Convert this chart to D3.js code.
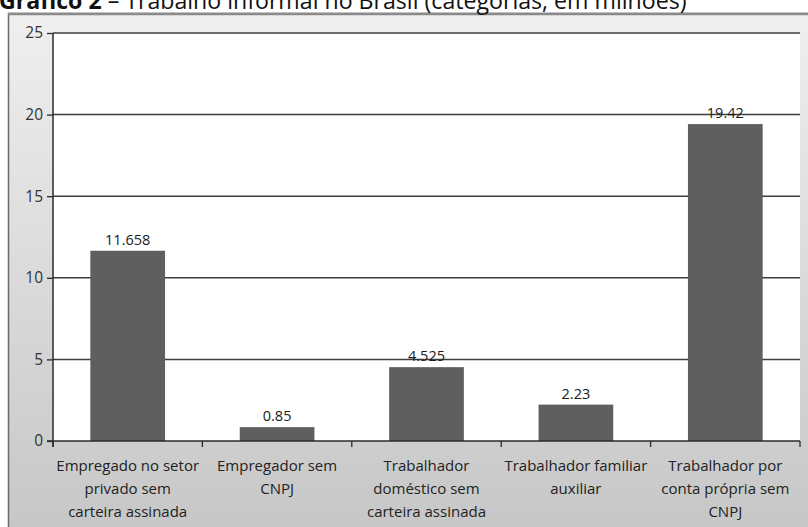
<!DOCTYPE html>
<html>
<head>
<meta charset="utf-8">
<script src="https://cdn.jsdelivr.net/npm/d3@7"></script>
<style>
  html, body { margin: 0; padding: 0; background: #ffffff; }
  svg { display: block; }
</style>
</head>
<body>
<svg id="chart" width="808" height="527"></svg>
<script>
// Categories of informal work in Brazil (millions of people)
const categories = [
  ["Empregado no setor", "privado sem", "carteira assinada"],
  ["Empregador sem", "CNPJ"],
  ["Trabalhador", "doméstico sem", "carteira assinada"],
  ["Trabalhador familiar", "auxiliar"],
  ["Trabalhador por", "conta própria sem", "CNPJ"]
];
const valueLabels = ["11.658", "0.85", "4.525", "2.23", "19.42"];
const values = valueLabels.map(Number);
const yTicks = [0, 5, 10, 15, 20, 25];

const titleBold = "Gráfico 2";
const titleRest = " – Trabalho informal no Brasil (categorias, em milhões)";

const W = 808, H = 527;
const font = "'Open Sans', 'DejaVu Sans', sans-serif";
const svg = d3.select("#chart");

// Frame background gradient
const defs = svg.append("defs");
const grad = defs.append("linearGradient")
  .attr("id", "frameGrad").attr("x1", 0).attr("y1", 0).attr("x2", 0).attr("y2", 1);
grad.append("stop").attr("offset", "0%").attr("stop-color", "#efefef");
grad.append("stop").attr("offset", "100%").attr("stop-color", "#c6c6c6");

svg.append("rect")
  .attr("x", 8.5).attr("y", 13.5).attr("width", W + 10).attr("height", H)
  .attr("fill", "url(#frameGrad)")
  .attr("stroke", "#6a6a6a").attr("stroke-width", 1.5);
svg.append("line")
  .attr("x1", 8).attr("x2", W).attr("y1", 14).attr("y2", 14)
  .attr("stroke", "#8a8a8a").attr("stroke-width", 2.5);

// Title sitting on the frame's top edge
const title = svg.append("text")
  .attr("x", -1).attr("y", 9)
  .attr("font-family", font).attr("font-size", 19).attr("fill", "#111");
title.append("tspan").attr("font-weight", "bold").text(titleBold);
title.append("tspan").text(titleRest);
{
  const target = 688;
  const len = title.node().getComputedTextLength();
  title.attr("font-size", 19 * target / len);
}

// Plot area
const plot = { left: 53, right: 800, top: 33, bottom: 441 };

const x = d3.scaleBand()
  .domain(d3.range(categories.length))
  .range([plot.left, plot.right])
  .paddingInner(0.5).paddingOuter(0.25);

const y = d3.scaleLinear().domain([0, 25]).range([plot.bottom, plot.top]);

svg.append("rect")
  .attr("x", plot.left).attr("y", plot.top)
  .attr("width", plot.right - plot.left).attr("height", plot.bottom - plot.top)
  .attr("fill", "#ffffff");

// Gridlines
svg.append("g").selectAll("line")
  .data(yTicks.filter(d => d > 0))
  .join("line")
  .attr("x1", plot.left).attr("x2", plot.right)
  .attr("y1", d => y(d)).attr("y2", d => y(d))
  .attr("stroke", "#3e3e3e").attr("stroke-width", 1.5);

// Bars
svg.append("g").selectAll("rect")
  .data(values)
  .join("rect")
  .attr("x", (d, i) => x(i))
  .attr("y", d => y(d))
  .attr("width", x.bandwidth())
  .attr("height", d => y(0) - y(d))
  .attr("fill", "#5f5f5f");

// Value labels
svg.append("g").selectAll("text")
  .data(values)
  .join("text")
  .attr("x", (d, i) => x(i) + x.bandwidth() / 2)
  .attr("y", d => y(d) - 6)
  .attr("text-anchor", "middle")
  .attr("font-family", font).attr("font-size", 14.5).attr("fill", "#1a1a1a")
  .text((d, i) => valueLabels[i]);

// Y axis
const yAxis = svg.append("g")
  .attr("transform", `translate(${plot.left},0)`)
  .call(d3.axisLeft(y).tickValues(yTicks).tickSize(6).tickPadding(4).tickFormat(d3.format("d")));
yAxis.select(".domain").attr("stroke", "#2a2a2a").attr("stroke-width", 1.5).attr("d", `M0,${plot.top}V${plot.bottom + 6}`);
yAxis.selectAll(".tick line").attr("stroke", "#2a2a2a").attr("stroke-width", 1.3);
yAxis.selectAll(".tick text")
  .attr("font-family", font).attr("font-size", 15.5).attr("fill", "#333");

// X axis with category separators
const bounds = d3.range(categories.length + 1).map(i => plot.left + i * x.step());
const xg = svg.append("g");
xg.append("line")
  .attr("x1", plot.left - 6).attr("x2", plot.right)
  .attr("y1", plot.bottom).attr("y2", plot.bottom)
  .attr("stroke", "#2a2a2a").attr("stroke-width", 1.5);
xg.selectAll("line.sep")
  .data(bounds)
  .join("line").attr("class", "sep")
  .attr("x1", d => d).attr("x2", d => d)
  .attr("y1", plot.bottom).attr("y2", plot.bottom + 6)
  .attr("stroke", "#2a2a2a").attr("stroke-width", 1.3);

// Category labels
const catG = xg.selectAll("text.cat")
  .data(categories)
  .join("text").attr("class", "cat")
  .attr("text-anchor", "middle")
  .attr("font-family", font).attr("font-size", 15).attr("fill", "#222");
catG.selectAll("tspan")
  .data((d, i) => d.map(line => ({ line, i })))
  .join("tspan")
  .attr("x", d => x(d.i) + x.bandwidth() / 2)
  .attr("y", (d, j) => 471 + j * 23)
  .text(d => d.line);
</script>
</body>
</html>
